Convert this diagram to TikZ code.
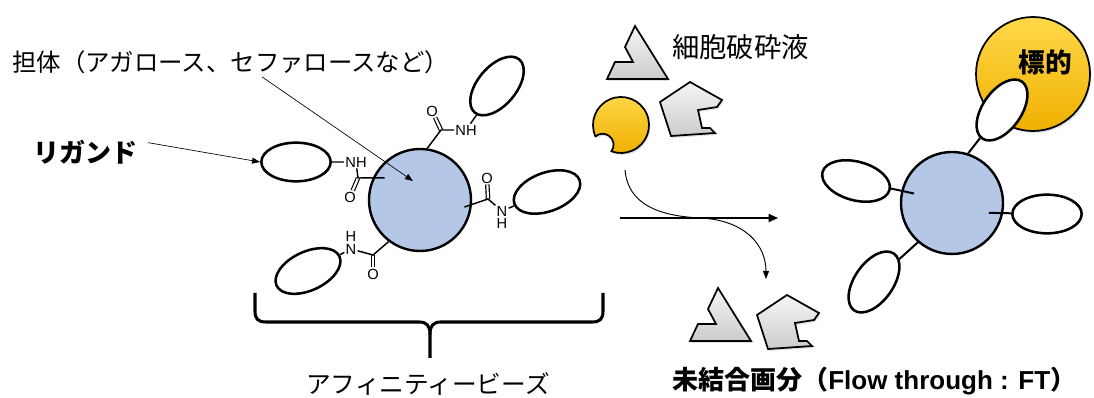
\documentclass[tikz,border=0pt]{standalone}
\usepackage{fontspec}
\usepackage{tikz}
\usetikzlibrary{arrows.meta, shapes.geometric, positioning, calc, shadows}

\newfontfamily\jpfont{Noto Sans CJK JP}
\newfontfamily\chemfont{Liberation Sans}

\definecolor{beadblue}{HTML}{B4C7E7}
\definecolor{goldtop}{HTML}{FFD84A}
\definecolor{goldbottom}{HTML}{EFB000}

\tikzset{
    bead/.style = {circle, draw, line width=1.8pt, fill=beadblue, minimum size=76.5pt, inner sep=0pt},
    ligand/.style = {ellipse, draw, line width=1.9pt, fill=white, minimum width=52pt, minimum height=29pt, inner sep=0pt},
    atom/.style = {font=\chemfont\fontsize{11}{11}\selectfont, inner sep=0.8pt},
    bond/.style = {line width=1.1pt},
    dbond/.style = {line width=0.9pt, double, double distance=1.6pt},
    arm/.style = {line width=1.5pt},
    debris/.style = {draw, line width=1.3pt, line join=miter, top color=gray!8, bottom color=gray!40,
        drop shadow={shadow xshift=1pt, shadow yshift=-1.5pt, opacity=0.25}},
    gold/.style = {draw, line width=1.3pt, top color=goldtop, bottom color=goldbottom,
        drop shadow={shadow xshift=1pt, shadow yshift=-1.5pt, opacity=0.25}},
    pointer/.style = {-{Triangle[length=6pt, width=4.5pt]}, line width=0.5pt},
    jp/.style = {font=\jpfont\fontsize{#1}{#1}\selectfont, inner sep=0pt},
    jpbold/.style = {font=\jpfont\bfseries\fontsize{#1}{#1}\selectfont, inner sep=0pt},
    % lysate fragments, origin at the top corner
    pics/wedge/.style = {code={
        \draw[debris] (0,0) -- (33,53) -- (-28,53) -- (-20,36) -- (-2,36) -- (-10,21) -- cycle;
    }},
    pics/notched/.style = {code={
        \draw[debris] (0,0) -- (32,18) -- (27,25) -- (8,28) -- (12,46) -- (20,46) -- (25,51) -- (-19,54) -- (-30,20) -- cycle;
    }},
}

\begin{document}
\begin{tikzpicture}[x=0.75pt, y=-0.75pt]
\useasboundingbox (0,0) rectangle (1094,398);

% affinity bead with amide-linked ligands
\node[bead] (lbead) at (420,200) {};
\node[ligand] (lig-l) at (296,162) {};
\node[ligand, rotate=50] (lig-tr) at (497,86) {};
\node[ligand, rotate=20] (lig-r) at (547,192) {};
\node[ligand, rotate=25] (lig-bl) at (308,271) {};

% top linker
\coordinate (c1) at (441,130);
\node[atom] (o1) at (432,111) {O};
\node[atom] (n1) at (466,130) {NH};
\draw[dbond] (c1) -- (o1);
\draw[bond] (lbead.82) -- (c1) -- (n1) -- (lig-tr);

% left linker
\coordinate (c2) at (358,178);
\node[atom] (o2) at (350,197) {O};
\node[atom] (n2) at (356,162) {NH};
\draw[dbond] (c2) -- (o2);
\draw[bond] ($(lbead)!0.8!(lbead.148)$) -- (c2) -- (n2) -- (lig-l);

% right linker
\coordinate (c3) at (488,199);
\node[atom] (o3) at (487,178) {O};
\node[atom] (n3) at (502,211) {N};
\node[atom, below=0pt of n3] (h3) {H};
\draw[dbond] (c3) -- (o3);
\draw[bond] ($(lbead)!0.86!(lbead.-9)$) -- (c3) -- (n3) -- (lig-r);

% bottom linker
\coordinate (c4) at (373,255);
\node[atom] (o4) at (373,274) {O};
\node[atom] (n4) at (351,249) {N};
\node[atom, above=0pt of n4] (h4) {H};
\draw[dbond] (c4) -- (o4);
\draw[bond] (lbead.233) -- (c4) -- (n4) -- (lig-bl);

% labels on the left
\node[jp=18.3, anchor=west] (carrier) at (12,62) {担体（アガロース、セファロースなど）};
\coordinate (carrier-tip) at (413,181);
\draw[pointer] (carrier.south west) ++(250,3) -- (carrier-tip);
\node[jpbold=19.5, anchor=west] (ligandlbl) at (33,152) {リガンド};
\draw[pointer] ([xshift=8pt, yshift=7pt]ligandlbl.east) -- (lig-l.west);

% brace under the beads
\draw[line width=2.3pt, line join=round] (255,293) -- (255,311) .. controls (255,319) and (258,322) .. (266,322)
    -- (419,322) .. controls (427,322) and (430,326) .. (430,334) -- (430,358);
\draw[line width=2.3pt, line join=round] (603,293) -- (603,311) .. controls (603,319) and (600,322) .. (592,322)
    -- (441,322) .. controls (433,322) and (430,326) .. (430,334);
\node[jp=18.5] (beadlbl) at (428,384) {アフィニティービーズ};

% cell lysate
\pic at (635,26) {wedge};
\pic at (690,82) {notched};
\draw[gold] (621,125) ++(156:28) arc[start angle=156, end angle=470, radius=28]
    arc[start angle=36.6, end angle=-130.6, radius=11] -- cycle;
\node[jp=20.5, anchor=west] (lysate) at (672,47) {細胞破砕液};

% separation arrows
\coordinate (sep-from) at (620,218);
\coordinate (sep-to) at (778,218);
\draw[-{Triangle[length=7pt, width=6pt]}, line width=1.3pt] (sep-from) -- (sep-to);
\coordinate (ft-from) at (625,170);
\coordinate (ft-to) at (766,279);
\draw[pointer, line width=0.7pt] (ft-from) .. controls (628,205) and (660,216) .. (700,218)
    .. controls (745,220) and (766,245) .. (ft-to);

% flow-through fraction
\pic at (718,288) {wedge};
\pic at (787,295) {notched};
\node[jpbold=19.5, anchor=west] (ftlbl) at (672,381) {未結合画分（{\chemfont\bfseries Flow through : FT}）};

% bead with captured target
\node[bead] (rbead) at (952,203) {};
\node[circle, gold, minimum size=85.5pt, inner sep=0pt] (target) at (1033,74) {};
\node[jpbold=20] (targetlbl) at (1045,62) {標的};
\node[ligand, rotate=55] (lig2-t) at (1002,110) {};
\node[ligand, rotate=-15] (lig2-l) at (856,181) {};
\node[ligand] (lig2-r) at (1047,214) {};
\node[ligand, rotate=55] (lig2-bl) at (874,282) {};
\draw[arm] (rbead.72) -- (lig2-t);
\draw[arm] ($(rbead)!0.75!(rbead.166)$) -- (lig2-l);
\draw[arm] ($(rbead)!0.73!(rbead.-15)$) -- (lig2-r);
\draw[arm] (rbead.229) -- (lig2-bl);
\end{tikzpicture}
\end{document}
